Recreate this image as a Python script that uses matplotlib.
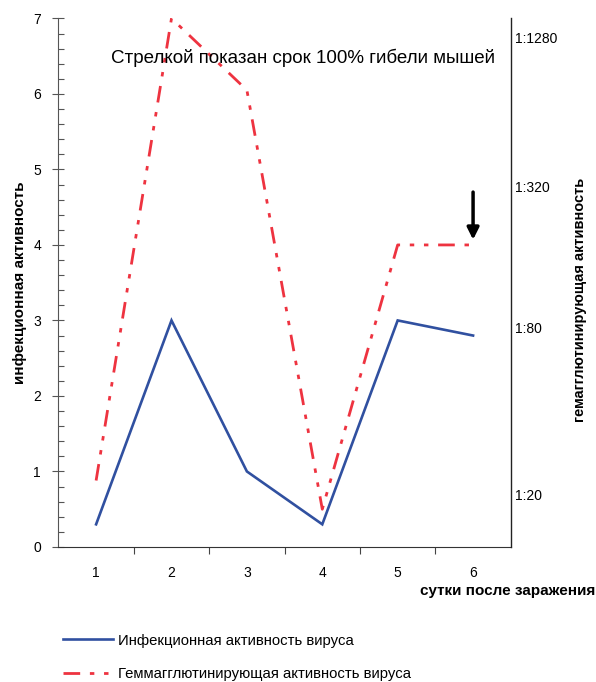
import matplotlib
matplotlib.use("Agg")
import matplotlib.pyplot as plt
from matplotlib.ticker import MultipleLocator

plt.rcParams['font.family'] = ['Liberation Sans', 'DejaVu Sans']

days = [1, 2, 3, 4, 5, 6]
day_labels = ["1", "2", "3", "4", "5", "6"]
infect = [0.3, 3.0, 1.0, 0.3, 3.0, 2.8]
hemagg = [0.88, 7.0, 6.05, 0.5, 4.0, 4.0]
right_ticks = [0.70, 2.91, 4.78, 6.75]
right_labels = ["1:20", "1:80", "1:320", "1:1280"]
arrow_day = 6
arrow_top, arrow_tip = 4.70, 4.07

fig = plt.figure(figsize=(5.96, 6.82), dpi=100)
ax = fig.add_axes([0.098, 0.198, 0.759, 0.775])

ax.plot(days, infect, color='#3050A0', lw=1.9, label='Инфекционная активность вируса',
        solid_joinstyle='miter')
ax.plot(days, hemagg, color='#EE3340', lw=2.0, linestyle=(0, (6, 3.5, 1.6, 3.5, 1.6, 3.5)),
        label='Геммагглютинирующая активность вируса')

ax.set_xlim(0.5, 6.5)
ax.set_ylim(0, 7)
ax.set_xticks(days)
ax.set_xticklabels(day_labels, fontsize=10)
ax.set_xticks([d + 0.5 for d in days[:-1]], minor=True)
ax.tick_params(axis='x', which='major', length=0, pad=14)
ax.tick_params(axis='x', which='minor', length=5, direction='out', width=0.8, color='#444444')
ax.yaxis.set_major_locator(MultipleLocator(1))
ax.yaxis.set_minor_locator(MultipleLocator(0.2))
ax.tick_params(axis='y', which='major', direction='inout', length=9, width=0.8, labelsize=10, pad=8,
               color='#555555')
ax.tick_params(axis='y', which='minor', direction='in', length=4, width=0.8, color='#555555')

ax.spines['top'].set_visible(False)
ax.spines['right'].set_visible(False)
ax.spines['left'].set_color('#555555')
ax.spines['bottom'].set_color('#333333')

ax2 = ax.twinx()
ax2.set_ylim(0, 7)
ax2.set_yticks(right_ticks)
ax2.set_yticklabels(right_labels, fontsize=10)
ax2.tick_params(axis='y', length=0, pad=3)
for s in ['top', 'left', 'bottom']:
    ax2.spines[s].set_visible(False)
ax2.spines['right'].set_color('#222222')
ax2.spines['right'].set_linewidth(1.0)

ax.set_ylabel('инфекционная активность', fontsize=11, fontweight='bold')
ax.yaxis.set_label_coords(-0.07, 0.50)
ax2.set_ylabel('гемагглютинирующая активность', fontsize=10.5, fontweight='bold', rotation=90)
ax2.yaxis.set_label_coords(1.137, 0.467)

fig.text(0.999, 0.134, 'сутки после заражения', fontsize=11, fontweight='bold', ha='right', va='center')

ax.text(0.54, 0.925, 'Стрелкой показан срок 100% гибели мышей', transform=ax.transAxes,
        ha='center', va='center', fontsize=13.5)

ax.annotate('', xy=(arrow_day, arrow_tip), xytext=(arrow_day, arrow_top),
            arrowprops=dict(arrowstyle='-|>,head_length=0.7,head_width=0.35', color='black', lw=2.5,
                            shrinkA=0, shrinkB=0))

leg = fig.legend(loc='lower left', bbox_to_anchor=(0.083, -0.018), frameon=False, fontsize=10.7,
                 handlelength=3.4, handletextpad=0.3, labelspacing=1.3)

fig.savefig('out.png', dpi=100)
